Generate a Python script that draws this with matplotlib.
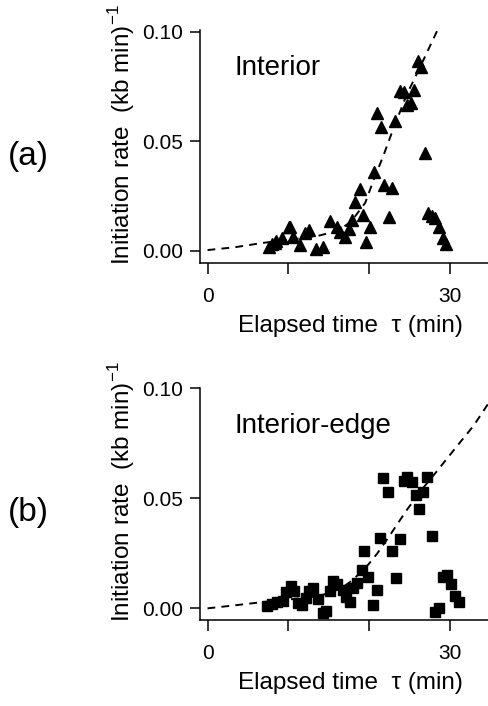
import numpy as np
import matplotlib
matplotlib.use('Agg')
import matplotlib.pyplot as plt

# tweak matplotlib settings
plt.rcParams['font.family'] = 'Liberation Sans'
plt.rcParams['mathtext.fontset'] = 'custom'
plt.rcParams['mathtext.rm'] = 'Liberation Sans'
plt.rcParams['axes.linewidth'] = 1.1

# (a) interior: triangles
t_int = [7.55, 7.96, 8.38, 8.5, 9.21, 10.02, 10.23, 10.57, 11.39, 12.09, 12.5,
         13.45, 14.28, 15.1, 16.01, 16.34, 16.96, 17.45, 17.87, 18.28, 18.81,
         19.23, 19.64, 20.14, 20.54, 20.97, 21.46, 21.87, 22.4, 22.82, 23.23,
         23.76, 24.26, 24.68, 25.17, 25.58, 25.99, 26.41, 26.86, 27.23, 27.77,
         28.18, 28.59, 29.13, 29.54]
v_int = [0.0018, 0.0030, 0.0034, 0.0045, 0.0056, 0.0109, 0.0107, 0.0064, 0.0026,
         0.0079, 0.0094, 0.0006, 0.0018, 0.0137, 0.0109, 0.0087, 0.0064, 0.0098,
         0.0140, 0.0224, 0.0280, 0.0163, 0.0041, 0.0109, 0.0361, 0.0630, 0.0563,
         0.0300, 0.0155, 0.0285, 0.0593, 0.0730, 0.0726, 0.0665, 0.0676, 0.0734,
         0.0867, 0.0840, 0.0445, 0.0171, 0.0158, 0.0148, 0.0107, 0.0056, 0.0030]
fit_t_int = [0, 3.4, 6.7, 10, 13.3, 14.7, 16.2, 17.8, 19.5, 20.5, 21.7, 23.0,
             24.6, 26.5, 28.4]
fit_v_int = [0.0003, 0.0016, 0.0035, 0.0050, 0.0064, 0.0078, 0.0092, 0.0135,
             0.0219, 0.0320, 0.0430, 0.0560, 0.0710, 0.0856, 0.1005]

# (b) interior-edge: squares
t_edge = [7.32, 7.93, 8.55, 9.29, 9.70, 10.28, 10.69, 11.23, 11.64, 12.18, 12.58,
          13.08, 13.70, 14.24, 14.65, 15.14, 15.55, 16.05, 16.71, 17.12, 17.61,
          18.02, 18.52, 19.06, 19.34, 19.88, 20.42, 20.91, 21.32, 21.73, 22.35,
          22.77, 23.30, 23.79, 24.29, 24.70, 25.24, 25.77, 26.18, 26.68, 27.17,
          27.71, 28.12, 28.65, 29.15, 29.64, 30.06, 30.59, 31.12]
v_edge = [0.0012, 0.0018, 0.0027, 0.0033, 0.0075, 0.0103, 0.0079, 0.0023, 0.0015,
          0.0048, 0.0079, 0.0091, 0.0042, -0.0023, -0.0012, 0.0079, 0.0124, 0.0109,
          0.0083, 0.0053, 0.0027, 0.0091, 0.0114, 0.0174, 0.0262, 0.0144, 0.0015,
          0.0083, 0.0318, 0.0594, 0.0530, 0.0260, 0.0136, 0.0315, 0.0579, 0.0598,
          0.0575, 0.0515, 0.0451, 0.0530, 0.0598, 0.0330, -0.0018, 0.0000, 0.0144,
          0.0151, 0.0109, 0.0057, 0.0030]
fit_t_edge = [0, 3.2, 6.7, 10, 13.3, 14.7, 16.5, 18, 19.9, 21, 22.6, 24.6, 26.5,
              28.4, 30.8, 32.9, 34.8]
fit_v_edge = [0.0, 0.0013, 0.0028, 0.0040, 0.0053, 0.0066, 0.0090, 0.0130, 0.0200,
              0.0250, 0.0335, 0.0445, 0.0540, 0.0625, 0.0735, 0.0830, 0.0935]

fig = plt.figure(figsize=(4.89, 7.06), dpi=100)

panels = [
    ([0.409, 0.6275, 0.591, 0.330], t_int, v_int, fit_t_int, fit_v_int, '^', 8.3,
     'Interior', '(a)', 156, (-0.0056, 0.1008)),
    ([0.409, 0.1218, 0.591, 0.3286], t_edge, v_edge, fit_t_edge, fit_v_edge, 's', 7.4,
     'Interior-edge', '(b)', 512, (-0.0053, 0.1001)),
]

for rect, t, v, ft, fv, mk, ms, name, tag, tag_y, ylim in panels:
    ax = fig.add_axes(rect)
    ax.plot(ft, fv, color='black', lw=1.4, ls=(0, (4, 3.2)))
    ax.plot(t, v, ls='none', marker=mk, ms=ms, color='black', mec='black')
    ax.set_xlim(-0.93, 34.8)
    ax.set_ylim(*ylim)
    ax.set_xticks([0, 10, 20, 30])
    ax.set_xticklabels(['0', '', '', '30'])
    ax.set_yticks([0, 0.05, 0.10])
    ax.set_yticklabels(['0.00', '0.05', '0.10'])
    ax.spines['top'].set_visible(False)
    ax.spines['right'].set_visible(False)
    ax.tick_params(axis='x', direction='out', length=8, width=1.1, pad=9, labelsize=15)
    ax.tick_params(axis='y', direction='out', length=7, width=1.1, pad=5, labelsize=15)
    ax.text(0.118, 0.835, name, transform=ax.transAxes, fontsize=20,
            ha='left', va='center')
    # axis labels placed by figure coordinates
    bottom_px = 706 * (1 - rect[1])
    fig.text(350 / 489, 1 - (bottom_px + 63) / 706, 'Elapsed time  τ (min)',
             ha='center', va='center', fontsize=17.5)
    fig.text(122 / 489, 1 - (bottom_px - 128) / 706,
             r'Initiation rate  (kb min)$^{\mathregular{-1}}$',
             rotation=90, ha='center', va='center', fontsize=17.5)
    fig.text(28 / 489, 1 - tag_y / 706, tag, ha='center', va='center', fontsize=24)

plt.savefig('out.png', dpi=100)
